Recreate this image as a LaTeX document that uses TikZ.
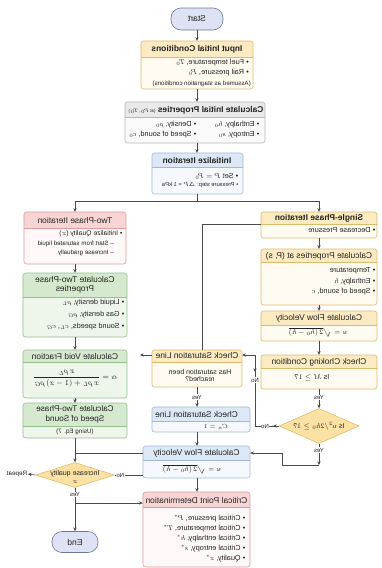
\documentclass[tikz,border=0pt]{standalone}
\usepackage{amsmath}
\usepackage{fontspec}
\setmainfont{Liberation Sans}
\usetikzlibrary{arrows.meta,shapes.geometric}
\definecolor{lncol}{HTML}{4A4A4A}
\definecolor{txt}{HTML}{222222}
\definecolor{yelhead}{HTML}{FCEBC2}
\definecolor{yelbody}{HTML}{FFFBF1}
\definecolor{yelline}{HTML}{DFB96C}
\definecolor{gryhead}{HTML}{E9E9E9}
\definecolor{grybody}{HTML}{FAFAFA}
\definecolor{gryline}{HTML}{B8B8B8}
\definecolor{bluhead}{HTML}{DCE8F5}
\definecolor{blubody}{HTML}{F5F9FD}
\definecolor{bluline}{HTML}{A0BAD6}
\definecolor{pnkhead}{HTML}{F8D5D5}
\definecolor{pnkbody}{HTML}{FFF8F8}
\definecolor{pnkline}{HTML}{DE9C9C}
\definecolor{grnhead}{HTML}{D5E9CF}
\definecolor{grnbody}{HTML}{EEF6EC}
\definecolor{grnline}{HTML}{96C18F}
\definecolor{diaf}{HTML}{FBE2A4}
\definecolor{diad}{HTML}{DDB660}
\definecolor{pillf}{HTML}{DDE3F4}
\definecolor{pilld}{HTML}{6B7796}
% box: name, x1, y1, x2, y2, ybar, colour prefix
\newcommand\cbox[7]{%
  \pgfmathsetmacro\cbx{(#2+#4)/2}%
  \pgfmathsetmacro\cby{(#3+#5)/2}%
  \pgfmathsetmacro\cbw{#4-#2}%
  \pgfmathsetmacro\cbh{#5-#3}%
  \fill[#7body, rounded corners=2.5pt] (#2,#3) rectangle (#4,#5);
  \fill[#7head, rounded corners=2.5pt] (#2,#3) rectangle (#4,#6);
  \fill[#7head] (#2,#6-3) rectangle (#4,#6);
  \draw[#7line, line width=0.6pt, rounded corners=2.5pt] (#2,#3) rectangle (#4,#5);
  \draw[#7line, line width=0.5pt] (#2,#6) -- (#4,#6);
  \node[minimum width=\cbw pt, minimum height=\cbh pt, inner sep=0pt] (#1) at (\cbx,\cby) {};
}
\tikzset{
  conn/.style={draw=lncol, line width=0.55pt},
  arr/.style={conn, -{Stealth[length=3.8pt,width=3.4pt]}},
  ttl/.style={inner sep=0pt, font=\fontsize{8.4}{9.6}\selectfont, text=txt, align=center},
  ttlb/.style={inner sep=0pt, font=\bfseries\fontsize{8.4}{9.6}\selectfont, text=txt},
  bod/.style={inner sep=0pt, anchor=west, font=\fontsize{7.3}{8.5}\selectfont, text=txt},
  sml/.style={inner sep=0pt, anchor=west, font=\fontsize{6.2}{7}\selectfont, text=txt},
  lbl/.style={inner sep=0.6pt, fill=white, font=\fontsize{6}{7}\selectfont, text=txt},
  pill/.style={draw=pilld, fill=pillf, rounded corners=10pt, inner sep=0pt, font=\fontsize{8.5}{10}\selectfont, text=txt, line width=0.6pt},
  dia/.style={shape=diamond, draw=diad, fill=diaf, inner sep=0pt, line width=0.5pt},
  diatxt/.style={inner sep=0pt, font=\fontsize{7}{8.3}\selectfont, align=center, text=txt},
}
\begin{document}
\begin{tikzpicture}[x=1pt,y=-1pt,xscale=-1,transform shape]
\useasboundingbox[fill=white] (0,0) rectangle (382,568);
% ---------- top column ----------
\node[pill, minimum width=52pt, minimum height=22pt] (start) at (185,19) {Start};
\cbox{input}{129}{41}{241}{89}{57}{yel}
\node[ttlb] at (185,49) {Input Initial Conditions};
\node[bod] at (133,63) {\textbullet\ Fuel temperature, $T_0$};
\node[bod] at (133,73) {\textbullet\ Rail pressure, $P_0$};
\node[sml] at (131,84) {(Assumed as stagnation conditions)};

\cbox{cinit}{117}{102}{257}{143}{117}{gry}
\node[ttlb] at (186,110) {Calculate Initial Properties {\mdseries\fontsize{4.5}{5}\selectfont (at $P_0$, $T_0$)}};
\node[bod] at (122.5,125) {\textbullet\ Enthalpy, $h_0$};
\node[bod] at (122.5,135) {\textbullet\ Entropy, $s_0$};
\node[bod] at (185.5,125) {\textbullet\ Density, $\rho_0$};
\node[bod] at (185.5,135) {\textbullet\ Speed of sound, $c_0$};

\cbox{init}{139}{153}{230}{194}{167}{blu}
\node[ttlb] at (185,160) {Initialize Iteration};
\node[bod] at (143.5,176) {\textbullet\ Set $P = P_0$};
\node[sml, font=\fontsize{5.8}{7}\selectfont] at (143.5,185) {\textbullet\ Pressure step: $\Delta P$ = 1 kPa};

% ---------- single-phase column ----------
\cbox{single}{5}{212}{121}{238}{224}{yel}
\node[ttlb] at (63,218) {Single-Phase Iteration};
\node[bod] at (6.5,230.5) {\textbullet\ Decrease Pressure};

\cbox{props}{5}{249}{121}{305}{262}{yel}
\node[ttl] at (63,256) {Calculate Properties at (P, s)};
\node[bod] at (6.5,271) {\textbullet\ Temperature};
\node[bod] at (6.5,281.5) {\textbullet\ Enthalpy, $h$};
\node[bod] at (6.5,292) {\textbullet\ Speed of sound, $c$};

\cbox{cfvr}{5}{311}{121}{341}{325}{yel}
\node[ttl] at (63,318.5) {Calculate Flow Velocity};
\node[ttl, font=\fontsize{7.5}{9}\selectfont] at (64,332.5) {$u = \sqrt{2\,(h_0 - h)}$};

\cbox{choke}{5}{355}{121}{389}{368}{yel}
\node[ttl] at (63,362) {Check Choking Condition};
\node[ttl, font=\fontsize{7.3}{9}\selectfont] at (70,378) {Is $M \geq 1$?};

\node[dia, minimum width=80pt, minimum height=35pt] (dia1) at (63,426) {};
\node[diatxt] at (dia1) {Is $u^2/2h_0 \geq 1$?};

% ---------- two-phase column ----------
\cbox{twoi}{256}{212}{358}{264}{228}{pnk}
\node[ttl] at (307,220) {Two-Phase Iteration};
\node[bod, font=\fontsize{6.8}{8}\selectfont] at (259.5,234) {\textbullet\ Initialize Quality ($x$)};
\node[sml] at (268,244) {– Start from saturated liquid};
\node[sml] at (268,252.5) {– Increase gradually};

\cbox{tprops}{255}{273}{359}{337}{297}{grn}
\node[ttl] at (307,285) {Calculate Two-Phase\\Properties};
\node[bod] at (257.5,303) {\textbullet\ Liquid density, $\rho_L$};
\node[bod] at (257.5,315) {\textbullet\ Gas density, $\rho_G$};
\node[bod] at (257.5,327) {\textbullet\ Sound speeds, $c_L$, $c_G$};

\cbox{void}{255}{350}{359}{398}{362}{grn}
\node[ttl] at (307,356) {Calculate Void Fraction};
\node[ttl, font=\fontsize{8}{9}\selectfont] at (307,379) {$\alpha = \dfrac{x\,\rho_L}{x\,\rho_L + (1-x)\,\rho_G}$};

\cbox{speed}{255}{403}{359}{438}{426}{grn}
\node[ttl, font=\fontsize{8.2}{9.3}\selectfont] at (307,414.5) {Calculate Two-Phase\\Speed of Sound};
\node[ttl, font=\fontsize{6.3}{7}\selectfont] at (307,432) {(Using Eq. 7)};

\node[dia, minimum width=79pt, minimum height=25pt] (dia2) at (307,475) {};
\node[diatxt] at (307,477) {Increase quality\\$x$};
\node[inner sep=0.5pt, font=\fontsize{6.3}{7}\selectfont, text=txt] (rep) at (365,474) {Repeat};

% ---------- centre column ----------
\coordinate (colc) at (185,0);
\cbox{cs}{140}{350}{230}{387}{362}{yel}
\node[ttl] at (185,355.5) {Check Saturation Line};
\node[ttl, font=\fontsize{7}{7.6}\selectfont] at (182,375.5) {Has saturation been\\reached?};

\cbox{csb}{132}{407}{230}{432}{421}{blu}
\node[ttl] at (185.5,414.5) {Check Saturation Line};
\node[bod, font=\fontsize{6.5}{7}\selectfont] at (154,426.7) {$C_n = 1$};

\cbox{cfvc}{132}{446}{239}{478}{460}{blu}
\node[ttl] at (185.5,453) {Calculate Flow Velocity};
\node[ttl, font=\fontsize{7.5}{9}\selectfont] at (190,469) {$u = \sqrt{2\,(h_0 - h)}$};

\cbox{cpd}{132}{492}{239}{567}{507}{pnk}
\node[ttl] at (185.5,500.5) {Critical Point Determination};
\node[bod] at (136.5,518.3) {\textbullet\ Critical pressure, $P^*$};
\node[bod] at (136.5,528.3) {\textbullet\ Critical temperature, $T^*$};
\node[bod] at (136.5,538.3) {\textbullet\ Critical enthalpy, $h^*$};
\node[bod] at (136.5,548.3) {\textbullet\ Critical entropy, $s^*$};
\node[bod] at (136.5,558.3) {\textbullet\ Quality, $x^*$};

\node[pill, minimum width=46pt, minimum height=21pt] (endn) at (307,542) {End};

% ---------- connectors ----------
\draw[arr] (start.south) -- (start.south |- input.north);
\draw[arr] (input.south) -- (input.south |- cinit.north);
\draw[arr] (cinit.south -| input.south) -- (init.north -| input.south);
\coordinate (jn) at (185,201.7);
\draw[conn] (init.south -| jn) -- (jn);
\draw[arr] (jn) -| (single.north);
\draw[arr] (jn) -| (twoi.north);

\draw[arr] (single.south) -- (props.north);
\draw[arr] (props.south) -- (cfvr.north);
\draw[arr] (cfvr.south) -- (choke.north);
\draw[arr] (choke.south) -- node[lbl,pos=0.45]{Yes} (dia1.north);
\coordinate (d1a) at (63,465);
\coordinate (d1b) at (100,465);
\coordinate (d1c) at (100,453);
\draw[arr] (dia1.south) -- node[lbl,pos=0.3]{Yes} (d1a);
\draw[arr] (d1a) -- (d1b) -- (d1c) -- (cfvc.west |- d1c);

\coordinate (sp1) at (180,224);
\draw[conn] (single.east |- sp1) -- (sp1) -- (sp1 |- cs.north);
\coordinate (vfa) at (242,355);
\draw[arr] (cs.east |- vfa) -- (vfa);

\coordinate (pb1) at (127,426);
\coordinate (pb2) at (127,355);
\draw[arr] (dia1.east) -- (pb1) -- (pb2) -- (cs.west |- pb2);
\coordinate (mk1) at (109,426);
\draw[arr] (dia1.east) -- (mk1);
\coordinate (mk2a) at (127,362);
\coordinate (mk2b) at (127,372);
\draw[arr] (mk2a) -- (mk2b);
\node[lbl] at (117,426) {No};
\node[lbl] at (127,380) {No};

\draw[arr] (cs.south) -- node[lbl]{Yes} (cs.south |- csb.north);
\draw[arr] (csb.south -| colc) -- (cfvc.north -| colc);
\draw[arr] (cfvc.south -| colc) -- (cpd.north -| colc);

\draw[arr] (twoi.south) -- (tprops.north);
\draw[arr] (tprops.south) -- (void.north);
\draw[arr] (void.south) -- (speed.north);
\draw[arr] (speed.south) -- (dia2.north);
\coordinate (j2) at (307,453);
\draw[conn] (cfvc.east |- j2) -- (j2);
\draw[conn] (dia2.west) -- node[lbl,pos=0.2]{No} (cfvc.east |- dia2.west);
\draw[arr] (dia2.east) -- (rep.west);
\draw[arr] (dia2.south) -- node[lbl,pos=0.16]{Yes} (endn.north);
\coordinate (j3) at (307,503);
\draw[arr] (j3) -- (cpd.east |- j3);
\end{tikzpicture}
\end{document}
